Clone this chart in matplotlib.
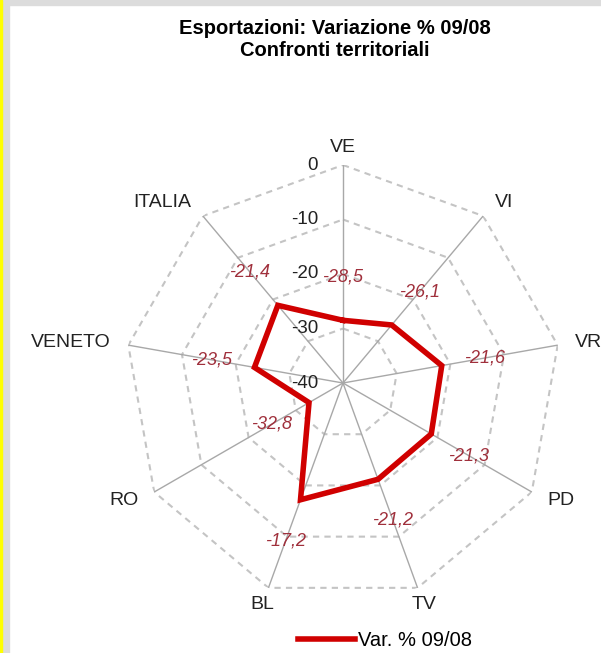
import numpy as np
import matplotlib
matplotlib.use('Agg')
import matplotlib.pyplot as plt
from matplotlib.patches import Rectangle

plt.rcParams['font.family'] = ['Liberation Sans', 'DejaVu Sans']

# dati: variazione % esportazioni 09/08
categorie = ['VE', 'VI', 'VR', 'PD', 'TV', 'BL', 'RO', 'VENETO', 'ITALIA']
variazioni = [-28.5, -26.1, -21.6, -21.3, -21.2, -17.2, -32.8, -23.5, -21.4]
livelli = [0, -10, -20, -30, -40]
nome_serie = 'Var. % 09/08'

W, H = 601, 653
fig = plt.figure(figsize=(W / 100, H / 100), dpi=100)

# bordi (giallo + grigio) come nello screenshot
fig.patches.append(Rectangle((0, 0), 9 / W, 1, transform=fig.transFigure, color='#dcdcdc', zorder=0))
fig.patches.append(Rectangle((0, 0), 2 / W, 1, transform=fig.transFigure, color='#ffff00', zorder=1))
fig.patches.append(Rectangle((0, 1 - 5 / H), 1, 5 / H, transform=fig.transFigure, color='#dcdcdc', zorder=0))

cx, cy, R = 343, H - 383, 218
ax = fig.add_axes([(cx - R) / W, (cy - R) / H, 2 * R / W, 2 * R / H], projection='polar')
ax.set_theta_offset(np.pi / 2)
ax.set_theta_direction(-1)
ax.set_ylim(-40, 0)
ax.set_xticks([])
ax.set_yticks([])
ax.grid(False)
ax.spines['polar'].set_visible(False)
ax.patch.set_alpha(0)

n = len(categorie)
theta = np.arange(n) * 2 * np.pi / n
theta_chiuso = np.append(theta, theta[0])

# griglia poligonale tratteggiata
for liv in livelli[:-1]:
    ax.plot(theta_chiuso, [liv] * (n + 1), color='#c4c4c4', lw=1.5, ls=(0, (3, 2.5)), zorder=1)

# raggi
for t in theta:
    ax.plot([t, t], [livelli[-1], livelli[0]], color='#a8a8a8', lw=1, zorder=2)

# serie
valori_chiusi = np.append(variazioni, variazioni[0])
ax.plot(theta_chiuso, valori_chiusi, color='#d00000', lw=4, zorder=3, label=nome_serie,
        solid_joinstyle='miter')

# etichette dati
for t, v in zip(theta, variazioni):
    ax.text(t, v + 8, f'{v:.1f}'.replace('.', ','), color='#a0303c', fontsize=13,
            fontstyle='italic', ha='center', va='center', zorder=4)

# etichette asse radiale
for liv in livelli:
    ax.annotate(str(liv), xy=(0, liv), xytext=(-18, 0), textcoords='offset points',
                ha='right', va='center', fontsize=13.5, color='#222222')

# etichette categorie
for t, nome in zip(theta, categorie):
    ang = np.pi / 2 - t
    c = np.cos(ang)
    ha = 'left' if c > 0.5 else ('right' if c < -0.5 else 'center')
    ax.text(t, 3.3, nome, ha=ha, va='center', fontsize=14, color='#222222', clip_on=False)

fig.text(335 / W, 1 - 39 / H, 'Esportazioni: Variazione % 09/08\nConfronti territoriali',
         ha='center', va='center', fontsize=14.5, fontweight='bold', linespacing=1.2)

fig.legend(loc='center', bbox_to_anchor=(385 / W, 12 / H), frameon=False, fontsize=14.5,
           handlelength=2.8, handletextpad=0.15, borderpad=0, borderaxespad=0)

fig.savefig('out.png', dpi=100)
